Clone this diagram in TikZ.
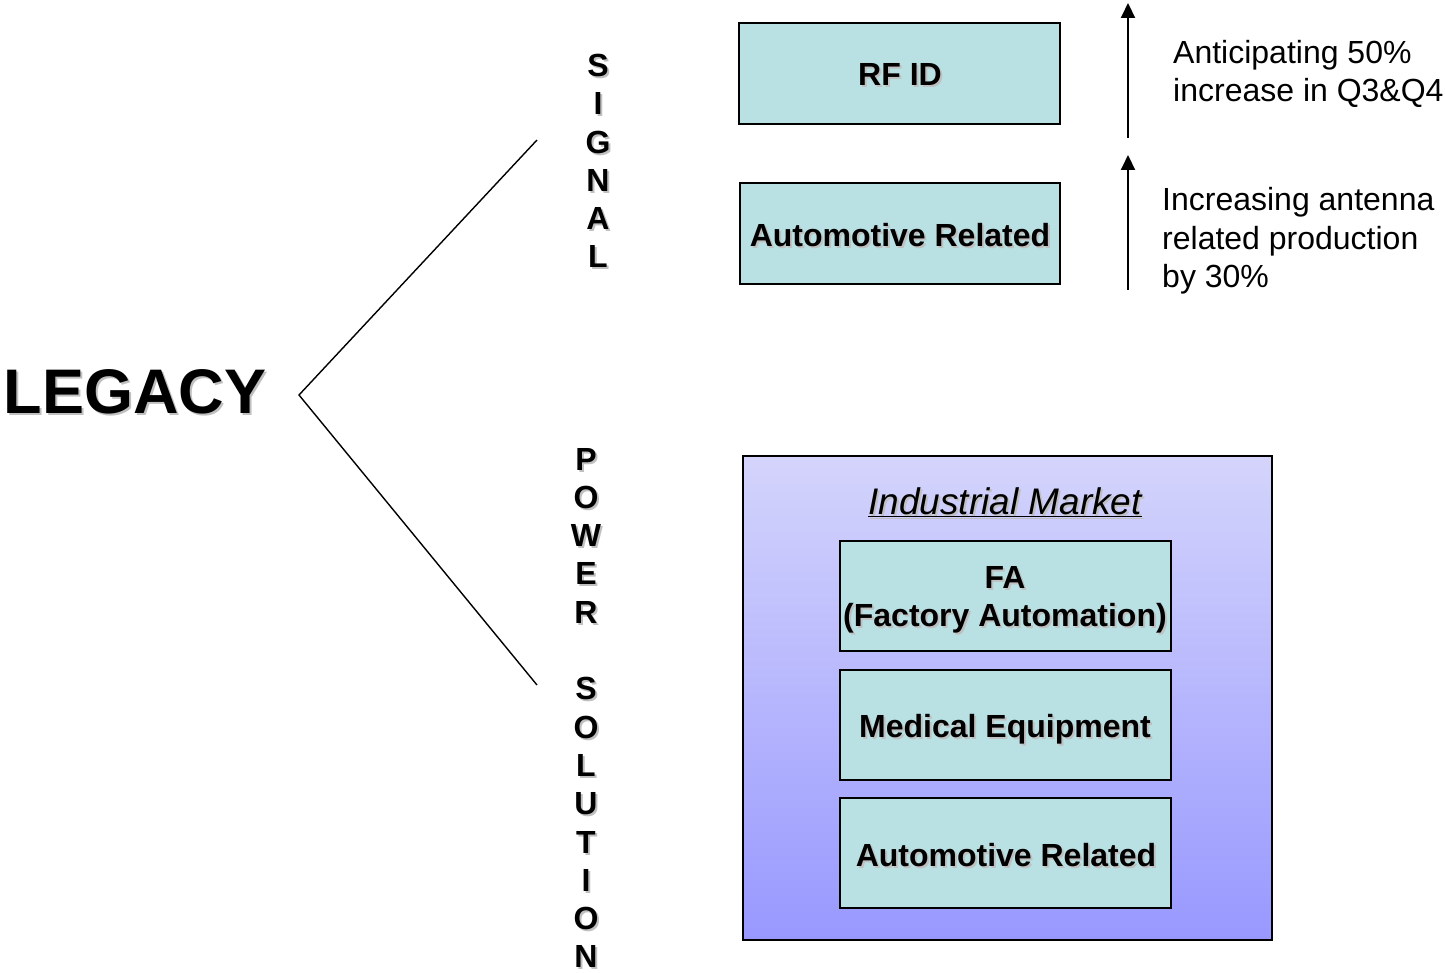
\documentclass[tikz,border=0pt]{standalone}
\usepackage{fontspec}
\setmainfont{Liberation Sans}
\usetikzlibrary{arrows.meta}

\definecolor{boxfill}{RGB}{185,224,227}
\definecolor{panetop}{RGB}{212,212,252}
\definecolor{panebot}{RGB}{152,152,255}
\definecolor{dropgray}{RGB}{192,192,192}

% text with a soft drop shadow: name, style, position, text
\newcommand{\castlabel}[4]{%
  \node[#2, text=dropgray] at ([shift={(2,2)}]#3) {#4};
  \node[#2] (#1) at (#3) {#4};}

\tikzset{
  body/.style={font=\fontsize{32}{38.3}\selectfont, inner sep=0pt, align=center},
  heavy/.style={body, font=\fontsize{32}{38.3}\selectfont\bfseries},
  plain/.style={body, align=left, anchor=west},
  stack/.style={heavy, align=center},
  cyanbox/.style={draw=black, line width=1.8pt, fill=boxfill, inner sep=0pt},
  pane/.style={draw=black, line width=1.8pt, top color=panetop, bottom color=panebot, inner sep=0pt},
  branch/.style={line width=1.4pt},
  rise/.style={line width=2pt, -{Triangle[width=14pt,length=15pt]}},
}

\begin{document}
\begin{tikzpicture}[x=1pt, y=-1pt]
\useasboundingbox (0,0) rectangle (1445,973);

% title and branches
\castlabel{legacy}{inner sep=0pt, font=\fontsize{63}{70}\selectfont\bfseries}{135,392}{LEGACY}
\coordinate (sigEnd) at (537,140);
\coordinate (tip) at (299,395);
\coordinate (powEnd) at (537,685);
\draw[branch] (sigEnd) -- (tip) -- (powEnd);

% vertical headings
\castlabel{signal}{stack}{598,161}{S\\I\\G\\N\\A\\L}
\castlabel{power}{stack}{586,708}{P\\O\\W\\E\\R\\ \\S\\O\\L\\U\\T\\I\\O\\N}

% signal boxes
\node[cyanbox, minimum width=321pt, minimum height=101pt] (rfid) at (899.5,73.5) {};
\castlabel{rfidtxt}{heavy}{900,74}{RF ID}
\node[cyanbox, minimum width=320pt, minimum height=101pt] (autoA) at (900,233.5) {};
\castlabel{autoAtxt}{heavy}{900,235}{Automotive Related}

% growth arrows and notes
\coordinate (a1s) at (1128,138);
\coordinate (a1e) at (1128,3);
\coordinate (a2s) at (1128,290);
\coordinate (a2e) at (1128,155);
\draw[rise] (a1s) -- (a1e);
\draw[rise] (a2s) -- (a2e);
\node[plain] (note1) at (1173,74) {Anticipating 50\%\\increase in Q3\&Q4};
\node[plain] (note2) at (1162,241) {Increasing antenna\\related production\\by 30\%};

% industrial market panel
\node[pane, minimum width=529pt, minimum height=484pt] (market) at (1007.5,698) {};
\castlabel{markettxt}{body, font=\fontsize{37}{42}\selectfont\itshape}{1005,502}{\underline{Industrial Market}}
\node[cyanbox, minimum width=331pt, minimum height=110pt] (fa) at (1005.5,596) {};
\castlabel{fatxt}{heavy}{1005,600}{FA\\(Factory Automation)}
\node[cyanbox, minimum width=331pt, minimum height=110pt] (med) at (1005.5,725) {};
\castlabel{medtxt}{heavy}{1005,729}{Medical Equipment}
\node[cyanbox, minimum width=331pt, minimum height=110pt] (autoB) at (1005.5,853) {};
\castlabel{autoBtxt}{heavy}{1006,855}{Automotive Related}
\end{tikzpicture}
\end{document}
